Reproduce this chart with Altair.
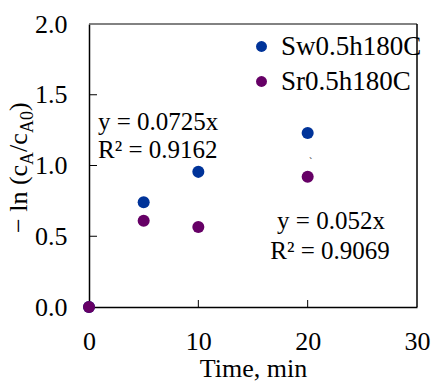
import altair as alt
import pandas as pd

# ---- data ----
time_min = [0, 5, 10, 20]
sw_vals = [0.0, 0.74, 0.955, 1.23]
sr_vals = [0.0, 0.61, 0.565, 0.92]
series_names = ["Sw0.5h180C", "Sr0.5h180C"]
series_colors = ["#003399", "#660066"]
x_tick_vals = [0, 10, 20, 30]
y_tick_vals = [0.0, 0.5, 1.0, 1.5, 2.0]
x_inner_ticks = [10, 20]
y_inner_ticks = [0.5, 1.0, 1.5]

rows = []
for t, v in zip(time_min, sw_vals):
    rows.append({"time": t, "value": v, "series": series_names[0]})
for t, v in zip(time_min, sr_vals):
    rows.append({"time": t, "value": v, "series": series_names[1]})
df = pd.DataFrame(rows)

W, H = 328, 283
FONT = "Liberation Serif"

xs = alt.Scale(domain=[0, 30], nice=False)
ys = alt.Scale(domain=[0, 2], nice=False)

points = alt.Chart(df).mark_circle(size=145, opacity=1).encode(
    x=alt.X("time:Q", scale=xs, axis=alt.Axis(
        values=x_tick_vals, grid=False, ticks=False, domainColor="black", domainWidth=1.5,
        labelFont=FONT, labelFontSize=26, labelColor="black", labelPadding=21,
        title="Time, min", titleFont=FONT, titleFontSize=26, titleFontWeight="normal",
        titleColor="black", titlePadding=1, labelFlush=False)),
    y=alt.Y("value:Q", scale=ys, axis=alt.Axis(
        values=y_tick_vals, format=".1f", grid=False, ticks=False, domainColor="black",
        domainWidth=1.5, labelFont=FONT, labelFontSize=26, labelColor="black",
        labelPadding=22, title=None, labelFlush=False)),
    color=alt.Color("series:N", scale=alt.Scale(domain=series_names, range=series_colors),
                    legend=alt.Legend(orient="none", legendX=159, legendY=9, title=None,
                                      labelFont=FONT, labelFontSize=27, labelColor="black",
                                      symbolType="circle", symbolSize=120, symbolStrokeWidth=0,
                                      labelOffset=6, rowPadding=7, padding=0)),
)

# inward ticks
xt = alt.Chart(pd.DataFrame({"t": x_inner_ticks})).mark_rule(color="black", strokeWidth=1).encode(
    x=alt.X("t:Q", scale=xs), y=alt.value(H), y2=alt.value(H - 7))
yt = alt.Chart(pd.DataFrame({"t": y_inner_ticks})).mark_rule(color="black", strokeWidth=1).encode(
    y=alt.Y("t:Q", scale=ys), x=alt.value(0), x2=alt.value(8))

# frame top / right
top_border = alt.Chart(pd.DataFrame({"a": [0]})).mark_rule(color="#595959", strokeWidth=1.5).encode(
    x=alt.value(0), x2=alt.value(W), y=alt.value(0))
right_border = alt.Chart(pd.DataFrame({"a": [0]})).mark_rule(color="black", strokeWidth=1.5).encode(
    x=alt.value(W), y=alt.value(0), y2=alt.value(H))


def txt(text, x, y, size=25, align="left", angle=0, baseline="alphabetic"):
    kw = dict(text=text, font=FONT, fontSize=size, color="black", align=align, baseline=baseline)
    if angle:
        kw["angle"] = angle
    return alt.Chart(pd.DataFrame({"a": [0]})).mark_text(**kw).encode(x=alt.value(x), y=alt.value(y))


annotations = [
    txt("y = 0.0725x", 9, 106),
    txt("R² = 0.9162", 9, 134),
    txt("y = 0.052x", 242, 205, align="center"),
    txt("R² = 0.9069", 241, 235, align="center"),
    txt("`", 220, 141, size=10),
]

# y axis title with subscripts: − ln (c_A/c_A0)
ytitle = [
    txt("− ln (c", -62, 209, size=26, angle=270),
    txt("A", -56, 141, size=18, angle=270),
    txt("/c", -62, 128, size=26, angle=270),
    txt("A0", -56, 109, size=18, angle=270),
    txt(")", -62, 87, size=26, angle=270),
]

chart = alt.layer(top_border, right_border, xt, yt, points, *annotations, *ytitle).properties(
    width=W, height=H,
    autosize=alt.AutoSizeParams(type="none"),
    padding={"left": 89, "top": 24, "right": 15, "bottom": 74},
).configure_view(stroke=None)

chart.save("out.html", embed_options={"renderer": "svg", "actions": False})
